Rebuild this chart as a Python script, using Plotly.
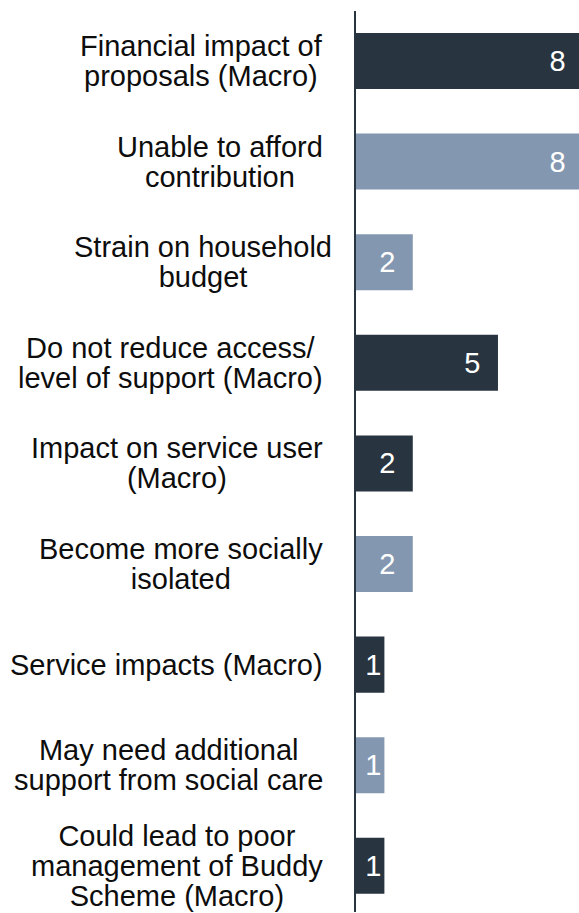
import plotly.graph_objects as go

# categories top to bottom
labels = [
    "Financial impact of<br>proposals (Macro)",
    "Unable to afford<br>contribution",
    "Strain on household<br>budget",
    "Do not reduce access/<br>level of support (Macro)",
    "Impact on service user<br>(Macro)",
    "Become more socially<br>isolated",
    "Service impacts (Macro)",
    "May need additional<br>support from social care",
    "Could lead to poor<br>management of Buddy<br>Scheme (Macro)",
]
counts = [8, 8, 2, 5, 2, 2, 1, 1, 1]
is_macro = [True, False, False, True, True, False, True, False, True]

DARK = "#283541"
LIGHT = "#8497b0"

cats = [l.replace("<br>", " ") for l in labels]
bar_colors = [DARK if m else LIGHT for m in is_macro]
# small right padding inside bars that are wide enough
bar_text = [str(v) + ("\u2002" if v > 1 else "") for v in counts]

fig = go.Figure(go.Bar(
    x=counts,
    y=cats,
    orientation="h",
    width=0.557,
    marker=dict(color=bar_colors, line_width=0),
    text=bar_text,
    textposition="inside",
    insidetextanchor="end",
    insidetextfont=dict(color="white", size=29, family="Liberation Sans, Arial, sans-serif"),
    constraintext="none",
    hoverinfo="x+y",
))

# category labels: centred lines, ~30px line spacing
for cat, lab in zip(cats, labels):
    lines = lab.split("<br>")
    txt = "<br>".join('<span style="font-size:29px">%s</span>' % s for s in lines)
    fig.add_annotation(
        x=0, xref="paper", y=cat, yref="y",
        text=txt, showarrow=False,
        xanchor="right", yanchor="middle", align="center",
        xshift=-31 + (9 if cat.startswith("Strain") else 0),
        font=dict(size=23, color="#0d0d0d", family="Liberation Sans, Arial, sans-serif"),
    )

# the original chart is cut off at the right edge: the figure is a bit wider
# than the window and the overflow is hidden
fig.update_layout(
    width=586, height=913,
    margin=dict(l=356, r=0, t=11, b=1),
    paper_bgcolor="white", plot_bgcolor="white",
    showlegend=False,
    xaxis=dict(range=[0, 8.1], visible=False, fixedrange=True),
    yaxis=dict(
        categoryorder="array", categoryarray=cats,
        range=[8.459, -0.497],
        showticklabels=False, ticks="",
        showgrid=False, zeroline=False,
        showline=True, linecolor=DARK, linewidth=1.5,
    ),
)

fig.write_html(
    "out.html",
    config={"displayModeBar": False},
    post_script="document.body.style.margin='0';document.body.style.overflow='hidden';",
)
